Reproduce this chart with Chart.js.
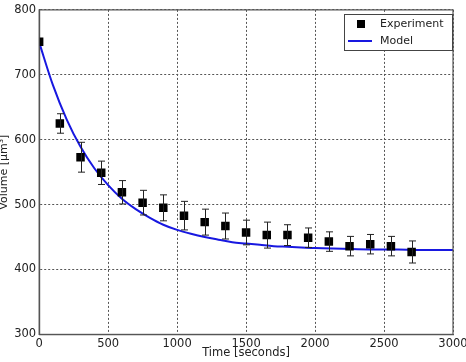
<!DOCTYPE html>
<html>
<head>
<meta charset="utf-8">
<script src="https://cdn.jsdelivr.net/npm/chart.js@4"></script>
<style>
  html, body { margin: 0; padding: 0; background: #fff; }
  #wrap { width: 466px; height: 362px; position: relative; }
</style>
</head>
<body>
<div id="wrap"><canvas id="chart"></canvas></div>
<script>
// experiment points
const expTime = [0, 150, 300, 450, 600, 750, 900, 1050, 1200, 1350, 1500, 1650, 1800, 1950, 2100, 2250, 2400, 2550, 2700];
const expVolume = [751, 625, 573, 549, 519, 503, 495, 483, 473, 467, 457, 453, 453, 449, 443, 436, 439, 436, 427];
const expError = [0, 15, 23, 18, 18, 19, 20, 22, 20, 20, 19, 20, 16, 15, 15, 15, 15, 15, 17];

// model curve
const modelTime = [0, 100, 200, 300, 400, 500, 600, 700, 800, 900, 1000, 1100, 1200, 1300, 1400, 1500, 1600, 1700, 1800, 1900, 2000, 2200, 2400, 2600, 2800, 3000];
const modelVolume = [750, 684, 631, 589, 556, 530, 509, 493, 480, 469, 461, 455, 450, 446, 442, 440, 438, 436, 435, 434, 433, 432, 431, 431, 430, 430];

const xTicks = [0, 500, 1000, 1500, 2000, 2500, 3000];
const yTicks = [300, 400, 500, 600, 700, 800];

const FONT = 'DejaVu Sans';
const TXT = '#222';

const errorBars = {
  id: 'errorBars',
  afterDatasetsDraw(chart) {
    const ctx = chart.ctx;
    const x = chart.scales.x, y = chart.scales.y;
    ctx.save();
    ctx.strokeStyle = '#222';
    ctx.lineWidth = 1;
    expTime.forEach((t, i) => {
      if (!expError[i]) return;
      const px = Math.round(x.getPixelForValue(t)) + 0.5;
      const top = y.getPixelForValue(expVolume[i] + expError[i]);
      const bot = y.getPixelForValue(expVolume[i] - expError[i]);
      ctx.beginPath();
      ctx.moveTo(px, top); ctx.lineTo(px, bot);
      ctx.moveTo(px - 3.5, top); ctx.lineTo(px + 3.5, top);
      ctx.moveTo(px - 3.5, bot); ctx.lineTo(px + 3.5, bot);
      ctx.stroke();
    });
    ctx.restore();
  }
};

const frameAndLegend = {
  id: 'frameAndLegend',
  afterDraw(chart) {
    const ctx = chart.ctx;
    const a = chart.chartArea;
    ctx.save();
    // solid frame round the plot
    ctx.strokeStyle = '#555';
    ctx.lineWidth = 1.2;
    ctx.strokeRect(a.left, a.top, a.right - a.left, a.bottom - a.top);

    // legend box, upper right
    const w = 108, h = 36;
    const lx = Math.round(a.right) - w - 1, ly = Math.round(a.top) + 4;
    ctx.fillStyle = '#fff';
    ctx.fillRect(lx, ly, w, h);
    ctx.strokeStyle = '#444';
    ctx.lineWidth = 1;
    ctx.strokeRect(lx + 0.5, ly + 0.5, w, h);
    ctx.fillStyle = '#000';
    ctx.fillRect(lx + 13, ly + 6, 8, 8);
    ctx.strokeStyle = '#1818e0';
    ctx.lineWidth = 2;
    ctx.beginPath();
    ctx.moveTo(lx + 4, ly + 27); ctx.lineTo(lx + 28, ly + 27);
    ctx.stroke();
    ctx.fillStyle = TXT;
    ctx.font = '11px ' + FONT;
    ctx.textBaseline = 'middle';
    ctx.fillText('Experiment', lx + 36, ly + 10);
    ctx.fillText('Model', lx + 36, ly + 27);
    ctx.restore();
  }
};

new Chart(document.getElementById('chart'), {
  type: 'scatter',
  data: {
    datasets: [{
      label: 'Model',
      type: 'line',
      data: modelTime.map((t, i) => ({ x: t, y: modelVolume[i] })),
      borderColor: '#1818e0',
      borderWidth: 2,
      pointRadius: 0,
      cubicInterpolationMode: 'monotone',
      fill: false,
      order: 2
    }, {
      label: 'Experiment',
      data: expTime.map((t, i) => ({ x: t, y: expVolume[i] })),
      pointStyle: 'rect',
      pointRadius: 6,
      backgroundColor: '#000',
      borderColor: '#000',
      borderWidth: 0,
      order: 1
    }]
  },
  options: {
    responsive: true,
    maintainAspectRatio: false,
    animation: false,
    layout: { padding: { top: 4, right: 0, left: -2, bottom: 0 } },
    plugins: {
      legend: { display: false },
      tooltip: { enabled: false }
    },
    scales: {
      x: {
        type: 'linear',
        min: 0, max: 3000,
        afterBuildTicks: s => { s.ticks = xTicks.map(v => ({ value: v })); },
        afterFit: s => { s.paddingRight = 13; },
        border: { display: true, color: '#555', width: 1.2, dash: [2, 2] },
        grid: { color: '#555', lineWidth: 1, drawTicks: false },
        ticks: { color: TXT, font: { family: FONT, size: 11.5 }, padding: 3, maxRotation: 0, callback: v => String(v) },
        title: { display: true, text: 'Time [seconds]', color: TXT, font: { family: FONT, size: 11.5 }, padding: { top: -8, bottom: 2 } }
      },
      y: {
        type: 'linear',
        min: 300, max: 800,
        afterBuildTicks: s => { s.ticks = yTicks.map(v => ({ value: v })); },
        border: { display: true, color: '#555', width: 1.2, dash: [2, 2] },
        grid: { color: '#555', lineWidth: 1, drawTicks: false },
        ticks: { color: TXT, font: { family: FONT, size: 11.5 }, padding: 3, callback: v => String(v) },
        title: { display: true, text: 'Volume [μm³]', color: TXT, font: { family: FONT, size: 11 }, padding: { top: 0, bottom: 0 } }
      }
    }
  },
  plugins: [errorBars, frameAndLegend]
});
</script>
</body>
</html>
